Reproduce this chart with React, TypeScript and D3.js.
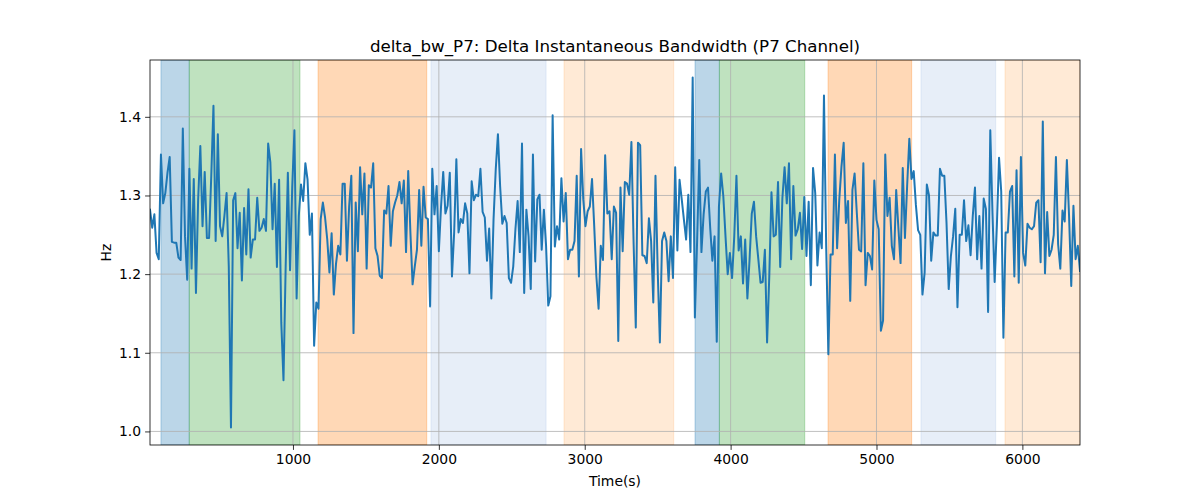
import React, { useEffect, useRef } from "react";
import * as d3 from "d3";

// sampling of the delta bandwidth trace (seconds)
const T0 = 20;
const DT = 15;

const deltaBw: number[] = [
  // 20 - 725 s
  1.282, 1.259, 1.276, 1.227, 1.219, 1.352, 1.29, 1.303, 1.329, 1.349, 1.241, 1.24, 1.24, 1.221, 1.218, 1.385,
  1.248, 1.193, 1.334, 1.207, 1.321, 1.176, 1.295, 1.363, 1.261, 1.33, 1.246, 1.246, 1.325, 1.414, 1.242, 1.378,
  1.261, 1.248, 1.274, 1.303, 1.21, 1.005, 1.294, 1.303, 1.233, 1.278, 1.192, 1.284, 1.225, 1.308, 1.221, 1.244,
  // 740 - 1445 s
  1.244, 1.297, 1.255, 1.259, 1.27, 1.255, 1.366, 1.342, 1.257, 1.315, 1.209, 1.32, 1.138, 1.065, 1.21, 1.329,
  1.205, 1.311, 1.383, 1.169, 1.274, 1.314, 1.293, 1.341, 1.32, 1.25, 1.277, 1.109, 1.164, 1.156, 1.27, 1.291,
  1.272, 1.244, 1.202, 1.252, 1.174, 1.213, 1.236, 1.225, 1.315, 1.315, 1.217, 1.286, 1.325, 1.125, 1.291, 1.229,
  // 1460 - 2165 s
  1.336, 1.276, 1.328, 1.207, 1.313, 1.31, 1.341, 1.233, 1.223, 1.198, 1.195, 1.281, 1.277, 1.312, 1.236, 1.28,
  1.291, 1.3, 1.317, 1.29, 1.319, 1.228, 1.331, 1.253, 1.187, 1.21, 1.231, 1.307, 1.236, 1.311, 1.272, 1.27,
  1.159, 1.334, 1.276, 1.312, 1.229, 1.286, 1.33, 1.277, 1.287, 1.329, 1.197, 1.253, 1.346, 1.253, 1.27, 1.265,
  // 2180 - 2870 s
  1.29, 1.277, 1.201, 1.318, 1.294, 1.301, 1.299, 1.334, 1.279, 1.272, 1.217, 1.258, 1.169, 1.27, 1.333, 1.378,
  1.312, 1.264, 1.274, 1.265, 1.195, 1.189, 1.21, 1.257, 1.293, 1.228, 1.366, 1.176, 1.282, 1.248, 1.181, 1.352,
  1.216, 1.295, 1.301, 1.231, 1.282, 1.236, 1.16, 1.172, 1.402, 1.235, 1.261, 1.244, 1.322, 1.267, 1.303,
  // 2885 - 3575 s
  1.219, 1.231, 1.231, 1.242, 1.325, 1.197, 1.359, 1.295, 1.261, 1.28, 1.286, 1.321, 1.261, 1.197, 1.156, 1.236,
  1.218, 1.351, 1.277, 1.28, 1.219, 1.286, 1.278, 1.115, 1.31, 1.229, 1.317, 1.315, 1.301, 1.368, 1.24, 1.132,
  1.367, 1.364, 1.224, 1.223, 1.214, 1.271, 1.242, 1.164, 1.325, 1.206, 1.113, 1.242, 1.253, 1.242, 1.191,
  // 3590 - 4280 s
  1.248, 1.195, 1.336, 1.23, 1.32, 1.295, 1.269, 1.244, 1.301, 1.228, 1.45, 1.145, 1.24, 1.345, 1.228, 1.276,
  1.305, 1.31, 1.259, 1.217, 1.248, 1.114, 1.286, 1.328, 1.299, 1.248, 1.2, 1.227, 1.195, 1.248, 1.325, 1.23,
  1.248, 1.188, 1.244, 1.169, 1.219, 1.277, 1.292, 1.248, 1.219, 1.189, 1.19, 1.231, 1.113, 1.197, 1.304,
  // 4295 - 4985 s
  1.248, 1.25, 1.317, 1.209, 1.297, 1.336, 1.29, 1.341, 1.219, 1.312, 1.249, 1.257, 1.278, 1.232, 1.298, 1.223,
  1.292, 1.186, 1.335, 1.303, 1.211, 1.253, 1.233, 1.427, 1.236, 1.098, 1.225, 1.225, 1.352, 1.233, 1.295, 1.337,
  1.367, 1.265, 1.293, 1.166, 1.307, 1.328, 1.278, 1.231, 1.229, 1.341, 1.186, 1.227, 1.223, 1.206, 1.319,
  // 5000 - 5690 s
  1.269, 1.257, 1.128, 1.141, 1.352, 1.274, 1.297, 1.236, 1.219, 1.307, 1.259, 1.214, 1.335, 1.246, 1.312, 1.372,
  1.321, 1.331, 1.288, 1.256, 1.25, 1.174, 1.202, 1.314, 1.3, 1.217, 1.253, 1.249, 1.249, 1.334, 1.325, 1.325,
  1.265, 1.181, 1.223, 1.248, 1.283, 1.158, 1.25, 1.25, 1.294, 1.242, 1.262, 1.224, 1.274, 1.31, 1.219,
  // 5705 - 6395 s
  1.274, 1.207, 1.296, 1.283, 1.152, 1.383, 1.278, 1.19, 1.261, 1.348, 1.305, 1.119, 1.253, 1.253, 1.305, 1.312,
  1.197, 1.332, 1.189, 1.349, 1.227, 1.211, 1.264, 1.259, 1.257, 1.261, 1.291, 1.294, 1.215, 1.394, 1.201, 1.279,
  1.223, 1.231, 1.25, 1.349, 1.238, 1.207, 1.281, 1.267, 1.345, 1.274, 1.185, 1.287, 1.219, 1.236, 1.204,
];

// shaded segments (start, end in seconds) and their colours
const spanStarts = [95, 289, 1172, 1946, 2858, 3756, 3923, 4668, 5305, 5881];
const spanEnds = [289, 1048, 1917, 2735, 3610, 3923, 4508, 5241, 5817, 6395];
const spanColors = [
  "#1f77b4", "#2ca02c", "#ff7f0e", "#aec7e8", "#ffbb78",
  "#1f77b4", "#2ca02c", "#ff7f0e", "#aec7e8", "#ffbb78",
];

const xTicks = [1000, 2000, 3000, 4000, 5000, 6000];
const yTicks = [1.0, 1.1, 1.2, 1.3, 1.4];

const WIDTH = 1200;
const HEIGHT = 500;
const FONT = "'DejaVu Sans', sans-serif";

export default function App() {
  const svgRef = useRef<SVGSVGElement>(null);

  useEffect(() => {
    if (!svgRef.current) return;
    const svg = d3.select(svgRef.current);
    svg.selectAll("*").remove();

    const margin = { top: 60, right: 120, bottom: 55, left: 150 };
    const innerW = WIDTH - margin.left - margin.right;
    const innerH = HEIGHT - margin.top - margin.bottom;

    const points = deltaBw.map((v, i) => ({ t: T0 + i * DT, v }));

    const x = d3
      .scaleLinear()
      .domain(d3.extent(points, (d) => d.t) as [number, number])
      .range([0, innerW]);

    // matplotlib style 5% padding on y
    const [yMin, yMax] = d3.extent(points, (d) => d.v) as [number, number];
    const pad = (yMax - yMin) * 0.05;
    const y = d3
      .scaleLinear()
      .domain([yMin - pad, yMax + pad])
      .range([innerH, 0]);

    svg
      .append("rect")
      .attr("width", WIDTH)
      .attr("height", HEIGHT)
      .attr("fill", "white");

    const g = svg
      .append("g")
      .attr("transform", `translate(${margin.left},${margin.top})`);

    g.append("clipPath")
      .attr("id", "plot-clip")
      .append("rect")
      .attr("width", innerW)
      .attr("height", innerH);

    // shaded spans
    g.append("g")
      .attr("clip-path", "url(#plot-clip)")
      .selectAll("rect")
      .data(spanStarts.map((s, i) => ({ s, e: spanEnds[i], c: spanColors[i] })))
      .join("rect")
      .attr("x", (d) => x(d.s))
      .attr("width", (d) => x(d.e) - x(d.s))
      .attr("y", 0)
      .attr("height", innerH)
      .attr("fill", (d) => d.c)
      .attr("fill-opacity", 0.3)
      .attr("stroke", (d) => d.c)
      .attr("stroke-opacity", 0.3)
      .attr("stroke-width", 1);

    // grid
    const grid = g.append("g").attr("stroke", "#b0b0b0").attr("stroke-width", 0.8);
    grid
      .selectAll("line.gx")
      .data(xTicks)
      .join("line")
      .attr("class", "gx")
      .attr("x1", (d) => x(d))
      .attr("x2", (d) => x(d))
      .attr("y1", 0)
      .attr("y2", innerH);
    grid
      .selectAll("line.gy")
      .data(yTicks)
      .join("line")
      .attr("class", "gy")
      .attr("x1", 0)
      .attr("x2", innerW)
      .attr("y1", (d) => y(d))
      .attr("y2", (d) => y(d));

    // the trace
    const line = d3
      .line<{ t: number; v: number }>()
      .x((d) => x(d.t))
      .y((d) => y(d.v));

    g.append("path")
      .datum(points)
      .attr("clip-path", "url(#plot-clip)")
      .attr("fill", "none")
      .attr("stroke", "#1f77b4")
      .attr("stroke-width", 2)
      .attr("stroke-linejoin", "round")
      .attr("stroke-linecap", "square")
      .attr("d", line);

    // axes
    const xAxis = g
      .append("g")
      .attr("transform", `translate(0,${innerH})`)
      .call(d3.axisBottom(x).tickValues(xTicks).tickSize(4.9).tickPadding(4).tickFormat(d3.format("d")));
    const yAxis = g
      .append("g")
      .call(d3.axisLeft(y).tickValues(yTicks).tickSize(4.9).tickPadding(4).tickFormat(d3.format(".1f")));

    [xAxis, yAxis].forEach((a) => {
      a.select(".domain").remove();
      a.selectAll("line").attr("stroke", "black").attr("stroke-width", 0.8);
      a.selectAll("text")
        .attr("fill", "black")
        .style("font-family", FONT)
        .style("font-size", "13.9px");
    });

    // spines
    g.append("rect")
      .attr("width", innerW)
      .attr("height", innerH)
      .attr("fill", "none")
      .attr("stroke", "black")
      .attr("stroke-width", 0.8);

    svg
      .append("text")
      .attr("x", margin.left + innerW / 2)
      .attr("y", 52)
      .attr("text-anchor", "middle")
      .style("font-family", FONT)
      .style("font-size", "16.7px")
      .text("delta_bw_P7: Delta Instantaneous Bandwidth (P7 Channel)");

    svg
      .append("text")
      .attr("x", margin.left + innerW / 2)
      .attr("y", 486)
      .attr("text-anchor", "middle")
      .style("font-family", FONT)
      .style("font-size", "13.9px")
      .text("Time(s)");

    svg
      .append("text")
      .attr("transform", `translate(111,${margin.top + innerH / 2}) rotate(-90)`)
      .attr("text-anchor", "middle")
      .style("font-family", FONT)
      .style("font-size", "13.9px")
      .text("Hz");
  }, []);

  return (
    <svg
      ref={svgRef}
      width={WIDTH}
      height={HEIGHT}
      style={{ position: "absolute", left: 0, top: 0 }}
    />
  );
}
